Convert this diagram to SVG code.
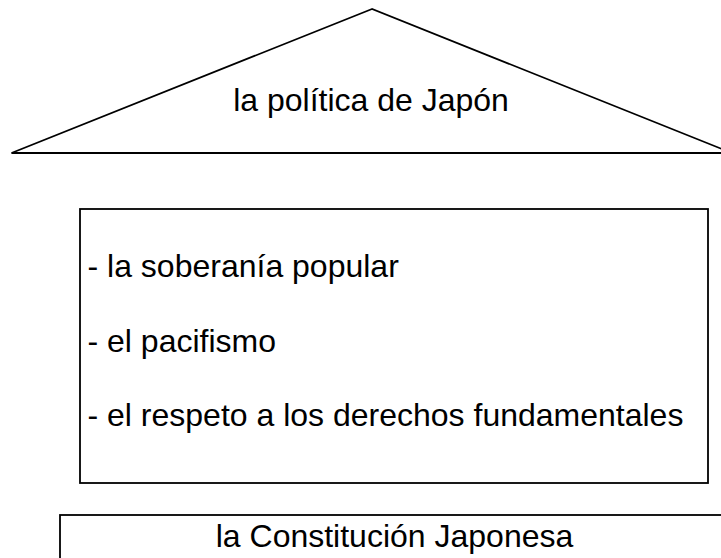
<svg xmlns="http://www.w3.org/2000/svg" width="721" height="558" viewBox="0 0 721 558">
<style>
.s{fill:#fff;stroke:#000;stroke-width:1.8}
.t{font-family:"Liberation Sans",Arial,sans-serif;font-size:32px;fill:#000}
</style>
<rect width="721" height="558" fill="#fff"/>
<g id="roof">
<polygon class="s" points="372,9 11.5,153 732,153"/>
<text class="t" x="371" y="111" text-anchor="middle">la política de Japón</text>
</g>
<g id="pillars">
<rect class="s" x="80" y="209" width="628" height="274"/>
<text class="t" x="87.5" y="277">- la soberanía popular</text>
<text class="t" x="87.5" y="352">- el pacifismo</text>
<text class="t" x="87.5" y="426">- el respeto a los derechos fundamentales</text>
</g>
<g id="base">
<rect class="s" x="60" y="515" width="680" height="60"/>
<text class="t" x="394.5" y="547" text-anchor="middle">la Constitución Japonesa</text>
</g>
<g id="connectors"/>
</svg>
